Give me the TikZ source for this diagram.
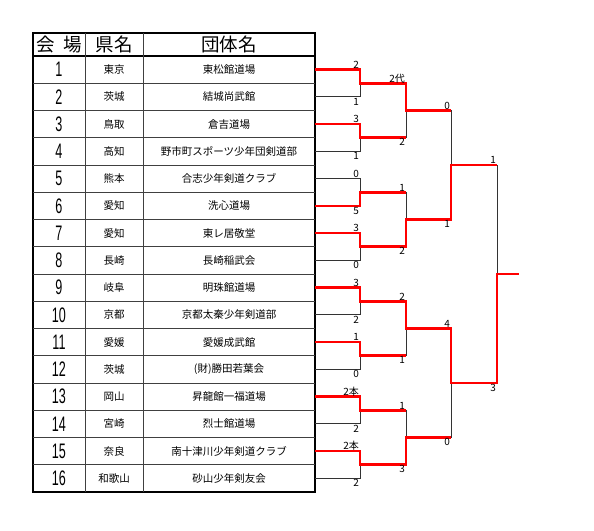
\documentclass[tikz,border=0pt]{standalone}
\usepackage{fontspec}
\setmainfont{Noto Sans CJK JP}
\newfontfamily\numfont[FakeStretch=0.6]{Liberation Sans}
\usetikzlibrary{calc}

\begin{document}
\begin{tikzpicture}[
  x=1pt, y=-1pt,
  font=\fontsize{10.5}{11}\selectfont,
  frame/.style={line width=1.5pt, draw=black},
  grid/.style={line width=0.7pt, draw=black!75},
  head/.style={font=\fontsize{18.5}{19}\selectfont, inner sep=0pt},
  numcell/.style={font=\numfont\fontsize{21}{21}\selectfont, inner sep=0pt},
  bline/.style={line width=0.8pt, draw=black!80},
  win/.style={line width=2.6pt, draw=red, line join=miter},
  score/.style={font=\fontsize{10}{10}\selectfont, inner sep=1pt,
                text height=7pt, text depth=0pt},
]
\useasboundingbox (0,0) rectangle (594,530);

% ---- Table ----
\draw[frame] (33,33) rectangle (315,492);
\draw[frame] (33,56) -- (315,56);
\foreach \i in {1,...,15}
  \draw[grid] (33,{56+27.25*\i}) -- (315,{56+27.25*\i});
\draw[grid] (85,33) -- (85,492);
\draw[grid] (143,33) -- (143,492);

\node[head] (hvenue) at (59,44.5) {会\hspace{0.45em}場};
\node[head] (hpref) at (114,44.5) {県名};
\node[head] (hteam) at (229,44.5) {団体名};

\foreach \i/\pref/\team in {
    1/東京/東松館道場, 2/茨城/結城尚武館, 3/鳥取/倉吉道場,
    4/高知/野市町スポーツ少年団剣道部, 5/熊本/合志少年剣道クラブ,
    6/愛知/洗心道場, 7/愛知/東レ居敬堂, 8/長崎/長崎稲武会,
    9/岐阜/明珠館道場, 10/京都/京都太秦少年剣道部, 11/愛媛/愛媛成武館,
    12/茨城/(財)勝田若葉会, 13/岡山/昇龍館一福道場, 14/宮崎/烈士館道場,
    15/奈良/南十津川少年剣道クラブ, 16/和歌山/砂山少年剣友会} {
  \coordinate (a\i) at (315,{56+27.25*(\i-0.5)});
  \node[numcell] (no\i) at (59,{56+27.25*(\i-0.5)}) {\i};
  \node (pref\i) at (114,{56+27.25*(\i-0.5)}) {\pref};
  \node (team\i) at (229,{56+27.25*(\i-0.5)}) {\team};
}

% ---- Bracket points ----
\foreach \k in {1,...,8}
  \coordinate (b\k) at (360,{56+27.25*(2*\k-1)});
\foreach \k in {1,...,4}
  \coordinate (c\k) at (406,{56+27.25*(4*\k-2)});
\foreach \k in {1,2}
  \coordinate (d\k) at (451,{56+27.25*(8*\k-4)});
\coordinate (e) at (497,{56+27.25*8});
\coordinate (champ) at (519,{56+27.25*8});

% ---- Bracket lines ----
\foreach \k [evaluate=\k as \t using int(2*\k-1),
             evaluate=\k as \u using int(2*\k)] in {1,...,8}
  \draw[bline] (a\t) -- (a\t -| b\k) -- (a\u -| b\k) -- (a\u);
\foreach \k [evaluate=\k as \t using int(2*\k-1),
             evaluate=\k as \u using int(2*\k)] in {1,...,4}
  \draw[bline] (b\t) -- (b\t -| c\k) -- (b\u -| c\k) -- (b\u);
\foreach \k [evaluate=\k as \t using int(2*\k-1),
             evaluate=\k as \u using int(2*\k)] in {1,2}
  \draw[bline] (c\t) -- (c\t -| d\k) -- (c\u -| d\k) -- (c\u);
\draw[bline] (d1) -- (d1 -| e) -- (d2 -| e) -- (d2);

% ---- Winners ----
\foreach \w/\k/\j in {1/1/1, 3/2/1, 6/3/2, 7/4/2, 9/5/3, 11/6/3, 13/7/4, 15/8/4}
  \draw[win] (a\w) -- (a\w -| b\k) -- (b\k) -- (b\k -| c\j);
\foreach \w/\k/\j in {1/1/1, 4/2/1, 5/3/2, 8/4/2}
  \draw[win] (b\w) -- (b\w -| c\k) -- (c\k) -- (c\k -| d\j);
\draw[win] (c2) -- (c2 -| d1) -- (d1) -- (d1 -| e);
\draw[win] (c3) -- (c3 -| d2) -- (d2) -- (d2 -| e);
\draw[win] (d2) -- (d2 -| e) -- (e) -- (champ);

% ---- Scores ----
\foreach \k/\top/\bot [evaluate=\k as \t using int(2*\k-1),
                       evaluate=\k as \u using int(2*\k)] in
    {1/2/1, 2/3/1, 3/0/5, 4/3/0, 5/3/2, 6/1/0, 7/2本/2, 8/2本/2} {
  \node[score, anchor=south east] (s1t\k) at (a\t -| b\k) {\top};
  \node[score, anchor=north east] (s1b\k) at (a\u -| b\k) {\bot};
}
\foreach \k/\top/\bot [evaluate=\k as \t using int(2*\k-1),
                       evaluate=\k as \u using int(2*\k)] in
    {1/2代/2, 2/1/2, 3/2/1, 4/1/3} {
  \node[score, anchor=south east] (s2t\k) at (b\t -| c\k) {\top};
  \node[score, anchor=north east] (s2b\k) at (b\u -| c\k) {\bot};
}
\foreach \k/\top/\bot [evaluate=\k as \t using int(2*\k-1),
                       evaluate=\k as \u using int(2*\k)] in
    {1/0/1, 2/4/0} {
  \node[score, anchor=south east] (s3t\k) at (c\t -| d\k) {\top};
  \node[score, anchor=north east] (s3b\k) at (c\u -| d\k) {\bot};
}
\node[score, anchor=south east] (sft) at (d1 -| e) {1};
\node[score, anchor=north east] (sfb) at (d2 -| e) {3};

\end{tikzpicture}
\end{document}
